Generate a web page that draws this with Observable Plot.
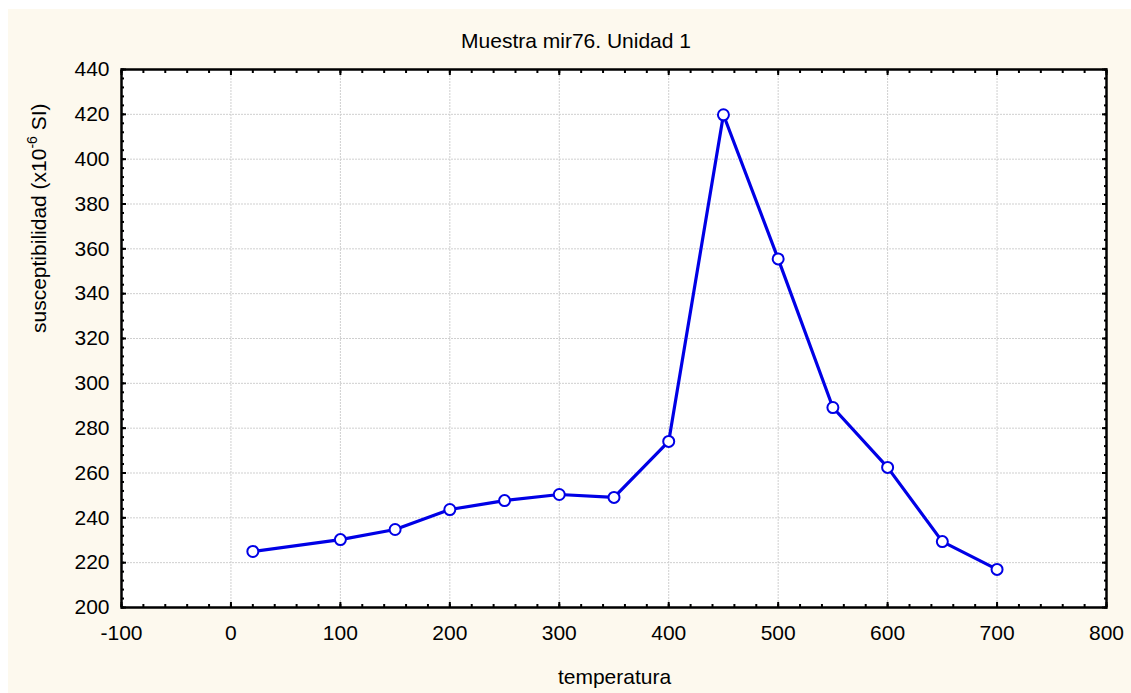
<!DOCTYPE html>
<html><head><meta charset="utf-8">
<script src="https://cdn.jsdelivr.net/npm/d3@7"></script>
<script src="https://cdn.jsdelivr.net/npm/@observablehq/plot@0.6"></script>
<style>
body{margin:0;background:#fff;}
#wrap{padding:9px 0 0 8px;width:1123px;height:684px;}
</style></head><body><div id="wrap"></div>
<script>
const temperatura = [20, 100, 150, 200, 250, 300, 350, 400, 450, 500, 550, 600, 650, 700];
const susceptibilidad = [225, 230.3, 234.8, 243.7, 247.7, 250.4, 249.1, 274.1, 419.8, 355.5, 289.2, 262.5, 229.4, 217];
const xTicks = [-100, 0, 100, 200, 300, 400, 500, 600, 700, 800];
const yTicks = [200, 220, 240, 260, 280, 300, 320, 340, 360, 380, 400, 420, 440];
const xMinor = d3.range(-100, 801, 20);
const yMinor = d3.range(200, 441, 4);
const title = "Muestra mir76. Unidad 1";
const xLabel = "temperatura";
const yLabel = "susceptibilidad (x10-6 SI)";

const data = temperatura.map((t, i) => ({t, s: susceptibilidad[i]}));
const blue = "#0000e6";
const font = "Liberation Sans, Arial, sans-serif";

const chart = Plot.plot({
  width: 1123,
  height: 684,
  marginLeft: 113,
  marginRight: 25,
  marginTop: 60,
  marginBottom: 86,
  style: {background: "#fdf9ee", fontFamily: font, fontSize: "21px", color: "#000"},
  x: {domain: [-100, 800], label: null},
  y: {domain: [200, 440], label: null},
  marks: [
    Plot.frame({fill: "white", stroke: null}),
    Plot.gridX(xTicks, {stroke: "#cfcfcf", strokeOpacity: 1, strokeDasharray: "2,1"}),
    Plot.gridY(yTicks, {stroke: "#cfcfcf", strokeOpacity: 1, strokeDasharray: "2,1"}),
    // minor ticks (inward)
    Plot.axisX(xMinor, {anchor: "bottom", tickSize: -3, strokeWidth: 2, text: null, label: null}),
    Plot.axisX(xMinor, {anchor: "top", tickSize: -3, strokeWidth: 2, text: null, label: null}),
    Plot.axisY(yMinor, {anchor: "left", tickSize: -3, strokeWidth: 2, text: null, label: null}),
    Plot.axisY(yMinor, {anchor: "right", tickSize: -3, strokeWidth: 2, text: null, label: null}),
    // major ticks (inward)
    Plot.axisX(xTicks, {anchor: "bottom", tickSize: -5, strokeWidth: 2, text: null, label: null}),
    Plot.axisX(xTicks, {anchor: "top", tickSize: -5, strokeWidth: 2, text: null, label: null}),
    Plot.axisY(yTicks, {anchor: "left", tickSize: -5, strokeWidth: 2, text: null, label: null}),
    Plot.axisY(yTicks, {anchor: "right", tickSize: -5, strokeWidth: 2, text: null, label: null}),
    // labels
    Plot.axisX(xTicks, {anchor: "bottom", tickSize: 0, tickPadding: 18, fontSize: 21, label: null, tickFormat: d => String(d)}),
    Plot.axisY(yTicks, {anchor: "left", tickSize: 0, tickPadding: 12, fontSize: 21, label: null, tickFormat: d => String(d)}),
    Plot.frame({stroke: "black", strokeWidth: 2.5}),
    Plot.line(data, {x: "t", y: "s", stroke: blue, strokeWidth: 3.2}),
    Plot.dot(data, {x: "t", y: "s", r: 5.5, fill: "white", stroke: blue, strokeWidth: 2}),
    Plot.text([title], {frameAnchor: "top", dx: -38, dy: -21.7, lineAnchor: "bottom", fontSize: 21, text: d => d}),
    Plot.text([xLabel], {frameAnchor: "bottom", dx: 0.5, dy: 76, lineAnchor: "bottom", fontSize: 21, text: d => d}),
    Plot.text([yLabel], {frameAnchor: "left", dx: -76, dy: -5.5, rotate: -90, lineAnchor: "bottom", fontSize: 21, text: d => d})
  ]
});
document.getElementById("wrap").appendChild(chart);

// superscript for the exponent in the y label
d3.select(chart).selectAll("text").each(function () {
  const t = d3.select(this);
  if (t.text() === yLabel) {
    t.text(null);
    t.append("tspan").text("susceptibilidad (x10");
    t.append("tspan").attr("dy", -9).attr("font-size", 14).text("-6");
    t.append("tspan").attr("dy", 9).text(" SI)");
  }
});
</script></body></html>
